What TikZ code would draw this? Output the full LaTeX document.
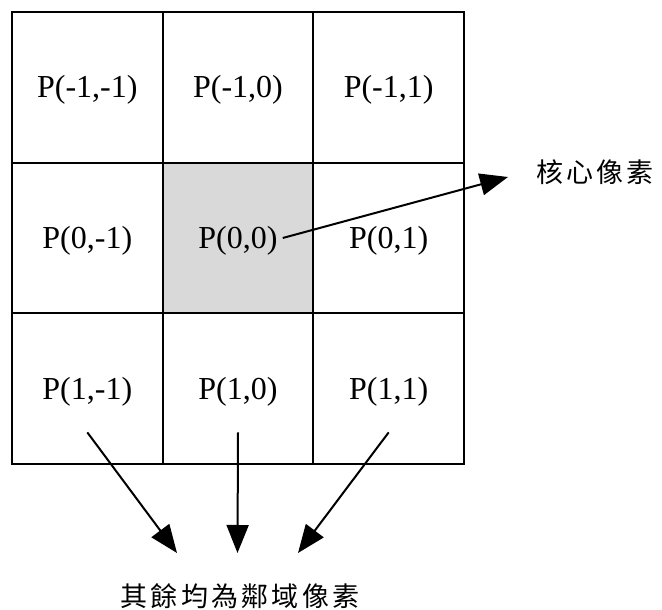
\documentclass[tikz,border=0pt]{standalone}
\usepackage{fontspec}
\setmainfont{Liberation Serif}
\newfontfamily\cjk{Noto Sans CJK TC}[LetterSpace=12]
\usetikzlibrary{arrows.meta}
\definecolor{kernelgray}{HTML}{D9D9D9}
\begin{document}
\begin{tikzpicture}[x=1pt,y=-1pt,
  cell/.style={draw=black,line width=2pt,minimum size=150.67pt,inner sep=0pt,outer sep=0pt},
  ptxt/.style={font=\fontsize{32}{38}\selectfont,text height=21pt,text depth=0pt,inner sep=5pt},
  note/.style={font=\cjk\fontsize{27}{31}\selectfont,inner sep=0pt},
  link/.style={line width=2pt,-{Triangle[length=28pt,width=22pt]}}]
\useasboundingbox (0,0) rectangle (662,610);
% 3x3 pixel grid; the middle cell is the kernel pixel
\foreach \r/\y in {1/87.33,2/238,3/388.67}{
  \foreach \c/\x in {1/87.33,2/238,3/388.67}{
    \node[cell] (c\r\c) at (\x,\y) {};
  }
}
\fill[kernelgray] (c22.north west) rectangle (c22.south east);
\draw[line width=2pt] (c22.north west) rectangle (c22.south east);
% pixel labels
\node[ptxt] (t11) at (c11) {P(-1,-1)};
\node[ptxt] (t12) at (c12) {P(-1,0)};
\node[ptxt] (t13) at (c13) {P(-1,1)};
\node[ptxt] (t21) at (c21) {P(0,-1)};
\node[ptxt] (t22) at (c22) {P(0,0)};
\node[ptxt] (t23) at (c23) {P(0,1)};
\node[ptxt] (t31) at (c31) {P(1,-1)};
\node[ptxt] (t32) at (c32) {P(1,0)};
\node[ptxt] (t33) at (c33) {P(1,1)};
% captions
\node[note] (core) at (595,172) {核心像素};
\node[note] (rest) at (240,596) {其餘均為鄰域像素};
% arrow tips
\coordinate (coretip) at (508,177);
\coordinate (tipL) at (177,553);
\coordinate (tipM) at (237.5,553);
\coordinate (tipR) at (298,553);
% connectors
\draw[link] (t22.east) -- (coretip);
\draw[link] ([yshift=-28pt]t31.south) -- (tipL);
\draw[link] ([yshift=-28pt]t32.south) -- (tipM);
\draw[link] ([yshift=-28pt]t33.south) -- (tipR);
\end{tikzpicture}
\end{document}
